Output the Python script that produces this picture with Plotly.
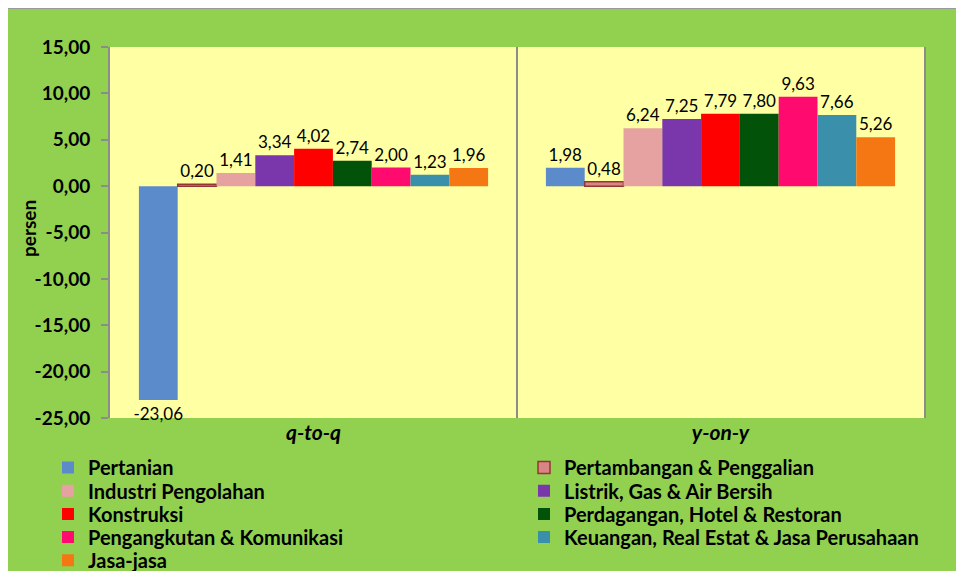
import plotly.graph_objects as go

periods = ["q-to-q", "y-on-y"]
sectors = [
    "Pertanian",
    "Pertambangan & Penggalian",
    "Industri Pengolahan",
    "Listrik, Gas & Air Bersih",
    "Konstruksi",
    "Perdagangan, Hotel & Restoran",
    "Pengangkutan & Komunikasi",
    "Keuangan, Real Estat & Jasa Perusahaan",
    "Jasa-jasa",
]
pertanian = [-23.06, 1.98]
pertambangan = [0.20, 0.48]
industri = [1.41, 6.24]
listrik = [3.34, 7.25]
konstruksi = [4.02, 7.79]
perdagangan = [2.74, 7.80]
pengangkutan = [2.00, 9.63]
keuangan = [1.23, 7.66]
jasa = [1.96, 5.26]
series = [pertanian, pertambangan, industri, listrik, konstruksi,
          perdagangan, pengangkutan, keuangan, jasa]
y_tick_vals = [15, 10, 5, 0, -5, -10, -15, -20, -25]
y_tick_text = ["15,00", "10,00", "5,00", "0,00", "-5,00", "-10,00", "-15,00", "-20,00", "-25,00"]
colors = ["#5B8BCB", "#DA8585", "#E6A2A0", "#7A37AB", "#FF0000",
          "#02520A", "#FF0A6E", "#3A8FAB", "#F47714"]
line_colors = [None, "#943634", None, None, None, None, None, None, None]

FONT = "Lato"

OFF = 8  # page body margin
W, H = 964 - OFF, 571 - OFF
ml, mt = 110 - OFF, 47 - OFF
mr, mb = W - (924 - OFF), H - (418 - OFF)
pw, ph = W - ml - mr, H - mt - mb
fx = lambda px: (px - OFF - ml) / pw   # px in screenshot pixels
fy = lambda py: 1 - (py - OFF - mt) / ph

fig = go.Figure()
legend_layouts = {}
for i, (name, vals, c, lc) in enumerate(zip(sectors, series, colors, line_colors)):
    lname = "legend" if i == 0 else f"legend{i + 1}"
    fig.add_trace(go.Bar(
        name=name, x=periods, y=vals, legend=lname,
        marker=dict(color=c, line=dict(color=lc if lc else c, width=1.5 if lc else 0)),
        texttemplate="%{y:.2f}", textposition="outside",
        textfont=dict(family=FONT, size=17, color="black"),
        constraintext="none", cliponaxis=False,
    ))
    col, row = i % 2, i // 2
    left_px = 48 if col == 0 else 524
    top_px = 448 + 23.2 * row
    legend_layouts[lname] = dict(
        x=fx(left_px), y=fy(top_px), xanchor="left", yanchor="top",
        orientation="v", bgcolor="rgba(0,0,0,0)", borderwidth=0,
        font=dict(family=FONT, size=20, weight="bold", color="black"),
        itemclick=False, itemdoubleclick=False,
    )

fig.update_layout(
    width=W, height=H, autosize=False,
    margin=dict(l=ml, r=mr, t=mt, b=mb, pad=0, autoexpand=False),
    paper_bgcolor="#92D050", plot_bgcolor="#FFFFA3",
    separators=",.",
    barmode="group", bargap=0.142, bargroupgap=0,
    font=dict(family=FONT, color="black"),
    showlegend=True,
    xaxis=dict(
        type="category", range=[-0.5, 1.5],
        tickson="boundaries", showgrid=True, gridcolor="#8C8C8C", gridwidth=2,
        ticks="", showline=False, zeroline=False,
        tickfont=dict(family=FONT, size=21, weight="bold", style="italic"),
    ),
    yaxis=dict(
        range=[-25, 15], tickmode="array", tickvals=y_tick_vals, ticktext=y_tick_text,
        showgrid=False, zeroline=False,
        showline=True, linecolor="#8C8C8C", linewidth=2, mirror=True,
        ticks="outside", ticklen=7, tickcolor="#8C8C8C", tickwidth=2,
        ticklabelstandoff=7,
        tickfont=dict(family=FONT, size=19, weight="bold"),
    ),
    annotations=[dict(
        text="persen", textangle=-90, xref="paper", yref="paper",
        x=fx(28), y=fy(229), xanchor="center", yanchor="middle", showarrow=False,
        font=dict(family=FONT, size=19, weight="bold", color="black"),
    )],
    **legend_layouts,
)

# thin grey frame line along the top and left edge of the chart
fig.add_shape(type="line", xref="paper", yref="paper", x0=fx(OFF - 2), x1=fx(964), y0=fy(OFF), y1=fy(OFF),
              line=dict(color="#9A9A9A", width=2), layer="above")
fig.add_shape(type="line", xref="paper", yref="paper", x0=fx(OFF - 1), x1=fx(OFF - 1), y0=fy(OFF), y1=fy(571),
              line=dict(color="#9A9A9A", width=2), layer="above")

fig.write_html("out.html")
